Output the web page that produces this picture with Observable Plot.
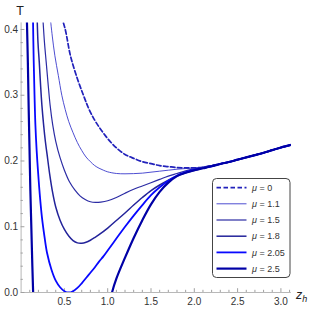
<!DOCTYPE html>
<html><head><meta charset="utf-8">
<script src="https://cdn.jsdelivr.net/npm/d3@7"></script>
<script src="https://cdn.jsdelivr.net/npm/@observablehq/plot@0.6"></script>
<style>body{margin:0;background:#fff;} #chart{width:311px;height:311px;}</style>
</head><body><div id="chart"></div>
<script>
// ---- data ----
const muLabels = ["0", "1.1", "1.5", "1.8", "2.05", "2.5"];

const z_mu0 = [0.465,0.51,0.57,0.65,0.72,0.78,0.85,0.92,1.0,1.1,1.2,1.3,1.4,1.5,1.6,1.7,1.8,1.9,2.0,2.1,2.2];
const T_mu0 = [0.42,0.40,0.36,0.325,0.30,0.28,0.262,0.248,0.234,0.22,0.21,0.204,0.199,0.196,0.193,0.1915,0.190,0.1895,0.1895,0.1905,0.193];

const z_mu11 = [0.335,0.36,0.39,0.43,0.47,0.51,0.55,0.60,0.65,0.70,0.75,0.80,0.85,0.90,0.95,1.0,1.1,1.2,1.3,1.4,1.5,1.6,1.7,1.8,1.9,2.0,2.1,2.2];
const T_mu11 = [0.42,0.39,0.36,0.33,0.30,0.278,0.26,0.243,0.228,0.216,0.206,0.199,0.193,0.189,0.186,0.1835,0.181,0.1805,0.1808,0.1815,0.183,0.1845,0.186,0.1875,0.1885,0.1895,0.1905,0.193];

const z_mu15 = [0.25,0.27,0.29,0.31,0.335,0.365,0.40,0.45,0.50,0.56,0.62,0.68,0.74,0.80,0.86,0.92,1.0,1.1,1.2,1.3,1.4,1.5,1.6,1.7,1.8,1.9,2.0,2.1,2.2];
const T_mu15 = [0.42,0.38,0.35,0.32,0.285,0.255,0.23,0.205,0.186,0.168,0.156,0.147,0.1415,0.138,0.137,0.1375,0.1395,0.1445,0.151,0.157,0.162,0.167,0.172,0.177,0.181,0.185,0.188,0.1905,0.193];

const z_mu18 = [0.185,0.195,0.21,0.225,0.24,0.26,0.28,0.30,0.33,0.36,0.40,0.45,0.50,0.55,0.60,0.65,0.70,0.75,0.80,0.85,0.90,1.0,1.1,1.2,1.3,1.4,1.5,1.6,1.7,1.8,1.9,2.0,2.1,2.2];
const T_mu18 = [0.42,0.38,0.35,0.315,0.285,0.255,0.23,0.21,0.18,0.155,0.13,0.11,0.096,0.086,0.079,0.0755,0.075,0.0765,0.0795,0.0835,0.088,0.098,0.1095,0.121,0.133,0.1445,0.155,0.1635,0.171,0.177,0.182,0.1855,0.189,0.192];

const z_mu205 = [0.137,0.145,0.155,0.165,0.18,0.195,0.215,0.24,0.27,0.30,0.35,0.40,0.45,0.50,0.55,0.60,0.65,0.70,0.75,0.80,0.85,0.90,0.95,1.0,1.1,1.2,1.3,1.4,1.5,1.6,1.7,1.8,1.9,2.0,2.1,2.2];
const T_mu205 = [0.42,0.355,0.30,0.255,0.215,0.185,0.15,0.115,0.085,0.06,0.035,0.018,0.008,0.002,0.0,0.002,0.007,0.014,0.022,0.030,0.038,0.047,0.055,0.064,0.082,0.100,0.117,0.133,0.148,0.160,0.170,0.178,0.183,0.187,0.1895,0.192];

const z_mu25 = [0.066,0.078,0.088,0.097,0.107,0.118,0.13,0.139,0.145,NaN,1.035,1.05,1.1,1.2,1.3,1.4,1.5,1.6,1.7,1.8,1.9,2.0,2.1,2.2];
const T_mu25 = [0.42,0.35,0.277,0.22,0.155,0.1,0.04,0.0,-0.02,NaN,-0.01,0.0,0.021,0.053,0.083,0.11,0.134,0.153,0.167,0.177,0.182,0.186,0.189,0.192];

// shared high-z branch where all curves coincide
const z_common = [2.3,2.4,2.5,2.6,2.7,2.8,2.9,3.0,3.12];
const T_common = [0.1955,0.1985,0.202,0.2055,0.209,0.2125,0.2165,0.2205,0.2245];

const yMajor = [0, 0.1, 0.2, 0.3, 0.4];
const xMajor = [0.5, 1.0, 1.5, 2.0, 2.5, 3.0];

// ---- styles ----
const colors = ["#2222bb", "#3a3acc", "#2c2ca4", "#23239a", "#0808ff", "#0000a6"];
const widths = [1.7, 0.9, 1.2, 1.5, 1.8, 2.2];
const dashes = ["4.5,2.5", null, null, null, null, null];

const zs = [z_mu0, z_mu11, z_mu15, z_mu18, z_mu205, z_mu25];
const Ts = [T_mu0, T_mu11, T_mu15, T_mu18, T_mu205, T_mu25];
const series = muLabels.map((mu, i) => {
  const zz = zs[i].concat(z_common), tt = Ts[i].concat(T_common);
  return zz.map((z, j) => ({mu, z, T: tt[j]}));
});

const yMinor = d3.range(0, 0.41, 0.02).map(v => +v.toFixed(2)).filter(v => Math.abs(v*10 - Math.round(v*10)) > 1e-6);
const xMinor = d3.range(0.1, 3.11, 0.1).map(v => +v.toFixed(1)).filter(v => Math.abs(v*2 - Math.round(v*2)) > 1e-6);

const W = 311, H = 311;
const mL = 20.6, mR = 20.2, mT = 22.4, mB = 19;
const plotW = W - mL - mR, plotH = H - mT - mB;

const drawOrder = [1, 2, 3, 4, 0, 5];
const lineMarks = drawOrder.map(i => Plot.line(series[i], {
  x: "z", y: "T", stroke: colors[i], strokeWidth: widths[i],
  strokeDasharray: dashes[i] || undefined, curve: "catmull-rom", clip: true
}));

const chart = Plot.plot({
  width: W, height: H,
  marginLeft: mL, marginRight: mR, marginTop: mT, marginBottom: mB,
  style: {fontFamily: "Liberation Sans, Arial, sans-serif", fontSize: "10px", background: "#fff"},
  x: {domain: [0, 3.12]},
  y: {domain: [0, 0.41]},
  marks: [
    Plot.ruleX([0], {stroke: "#b8b8b8", strokeWidth: 1}),
    Plot.ruleY([0], {stroke: "#b8b8b8", strokeWidth: 1}),
    Plot.tickY(yMinor, {y: d => d, insetRight: plotW - 2.2, stroke: "#a0a0a0"}),
    Plot.tickY(yMajor, {y: d => d, insetRight: plotW - 3.8, stroke: "#a0a0a0"}),
    Plot.tickX(xMinor, {x: d => d, insetTop: plotH - 2.2, stroke: "#a0a0a0"}),
    Plot.tickX(xMajor, {x: d => d, insetTop: plotH - 3.8, stroke: "#a0a0a0"}),
    Plot.axisY({ticks: yMajor, tickSize: 0, tickPadding: 3, tickFormat: d3.format(".1f"), label: null, fill: "#333"}),
    Plot.axisX({ticks: xMajor, tickSize: 0, tickPadding: 5, tickFormat: d3.format(".1f"), label: null, fill: "#333"}),
    ...lineMarks
  ]
});

const svg = d3.select(chart);
// axis titles
svg.append("text").attr("x", 20).attr("y", 14.5).attr("text-anchor", "middle")
  .attr("font-size", 12.5).attr("fill", "#222").text("T");
const zt = svg.append("text").attr("x", 296).attr("y", 298.5).attr("text-anchor", "start")
  .attr("font-size", 12.5).attr("fill", "#222").attr("font-style", "italic");
zt.append("tspan").text("z");
zt.append("tspan").attr("font-size", 9).attr("dy", 3.5).text("h");

// legend
const lg = svg.append("g");
lg.append("rect").attr("x", 212.5).attr("y", 178.5).attr("width", 77.5).attr("height", 99)
  .attr("rx", 4).attr("fill", "#fff").attr("stroke", "#444").attr("stroke-width", 1);
muLabels.forEach((mu, i) => {
  const yy = 187.6 + i * 16.2;
  lg.append("line").attr("x1", 216.5).attr("x2", 246.5).attr("y1", yy).attr("y2", yy)
    .attr("stroke", colors[i]).attr("stroke-width", widths[i])
    .attr("stroke-dasharray", dashes[i] || null);
  const t = lg.append("text").attr("x", 252).attr("y", yy).attr("dy", "0.35em")
    .attr("text-anchor", "start").attr("font-size", 9).attr("fill", "#333");
  t.append("tspan").attr("font-style", "italic").text("μ");
  t.append("tspan").text(" = " + mu);
});

document.getElementById("chart").appendChild(chart);
</script></body></html>
